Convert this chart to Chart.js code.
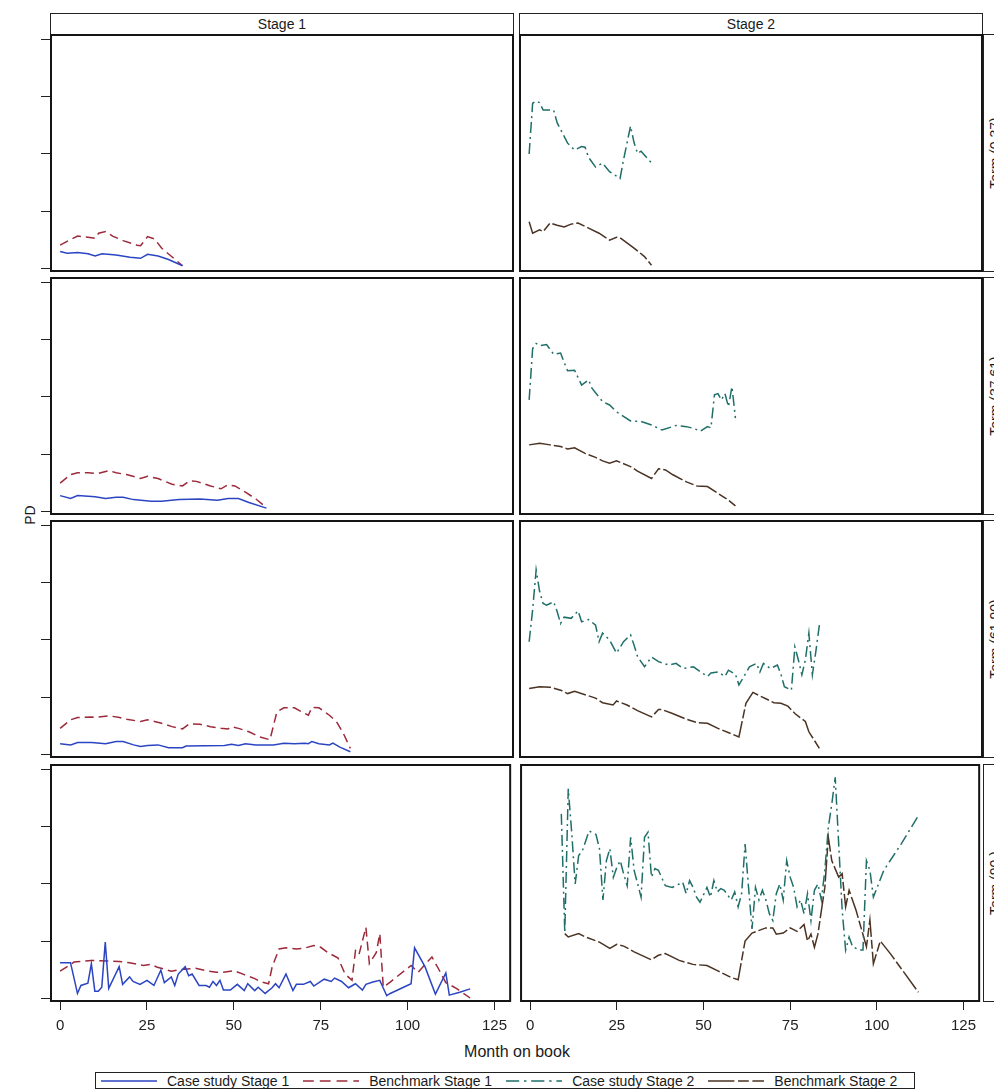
<!DOCTYPE html>
<html>
<head>
<meta charset="utf-8">
<script src="https://cdn.jsdelivr.net/npm/chart.js@4.4.1/dist/chart.umd.min.js"></script>
<style>
body { margin: 0; width: 994px; height: 1090px; overflow: hidden; background: #fff; position: relative;
       font-family: "Liberation Sans", Arial, sans-serif; color: #1a1a1a; }
.strip { position: absolute; box-sizing: border-box; border: 1px solid #222; background: #fff; font-size: 14px; text-align: center; }
.rowstrip { position: absolute; box-sizing: border-box; border: 1px solid #222; background: #fff; }
.rowstrip span { position: absolute; left: 50%; top: 50%; white-space: nowrap; font-size: 14px;
                 transform: translate(-50%, -50%) rotate(-90deg); }
#ytitle { position: absolute; left: 20px; top: 507px; font-size: 14px; transform: rotate(-90deg); transform-origin: center; }
#xtitle { position: absolute; left: 0; width: 1034px; top: 1043px; text-align: center; font-size: 16px; }
#legend { position: absolute; left: 95px; top: 1072px; width: 820px; height: 17px; box-sizing: border-box;
          border: 1px solid #222; display: flex; align-items: center; font-size: 14px; }
#legend .item { display: flex; align-items: center; margin-left: 5px; margin-right: 9px; }
#legend svg { margin-right: 10px; }
</style>
</head>
<body>
<div id="ytitle">PD</div>
<div id="xtitle">Month on book</div>
<div id="legend"></div>
<script>
// facet labels and axis ticks
const colLabels = ["Stage 1", "Stage 2"];
const rowLabels = ["Term (0,37)", "Term (37,61)", "Term (61,90)", "Term (90,)"];
const xTicks = [0, 25, 50, 75, 100, 125];
const yTicks = [0, 1, 2, 3, 4];   // tick labels are blanked in the source

// [month, PD] -- Term (0,37)
const t1CaseS1 = [[0,0.29],[2,0.26],[5,0.27],[8,0.25],[10,0.21],[12,0.25],[16,0.23],[20,0.19],[23,0.17],[25,0.24],[28,0.21],[31,0.15],[35,0.04]];
const t1BenchS1 = [[0,0.40],[3,0.50],[5,0.56],[8,0.54],[10,0.52],[11,0.61],[13,0.64],[15,0.56],[18,0.48],[22,0.40],[23,0.39],[25,0.55],[27,0.51],[29,0.35],[35,0.04]];
const t1CaseS2 = [[0,2.0],[1,2.89],[2,2.93],[3,2.9],[4,2.77],[7,2.77],[8,2.55],[11,2.19],[13,2.07],[15,2.13],[16,2.12],[17,1.94],[19,1.77],[21,1.84],[23,1.69],[26,1.57],[27,1.9],[29,2.49],[30,2.2],[31,2.01],[32,2.05],[35,1.84]];
const t1BenchS2 = [[0,0.81],[1,0.61],[3,0.67],[4,0.64],[6,0.79],[8,0.75],[10,0.72],[12,0.77],[14,0.79],[17,0.7],[20,0.61],[23,0.49],[25,0.54],[26,0.53],[30,0.35],[33,0.2],[35,0.05]];

// Term (37,61)
const t2CaseS1 = [[0,0.27],[3,0.22],[5,0.27],[8,0.26],[10,0.25],[13,0.22],[16,0.24],[18,0.24],[21,0.2],[26,0.17],[29,0.17],[34,0.2],[40,0.21],[45,0.19],[48,0.22],[51,0.22],[54,0.15],[59,0.05]];
const t2BenchS1 = [[0,0.49],[3,0.64],[5,0.67],[8,0.67],[11,0.66],[14,0.71],[16,0.67],[19,0.64],[23,0.57],[25,0.61],[28,0.57],[32,0.47],[35,0.44],[37,0.53],[39,0.52],[43,0.44],[46,0.39],[48,0.46],[50,0.44],[53,0.33],[56,0.21],[59,0.06]];
const t2CaseS2 = [[0,1.95],[1,2.85],[2,2.94],[3,2.9],[5,2.92],[7,2.75],[9,2.77],[10,2.61],[11,2.46],[13,2.47],[15,2.21],[17,2.3],[18,2.15],[21,1.92],[23,1.86],[25,1.74],[29,1.58],[32,1.57],[35,1.51],[38,1.42],[42,1.5],[45,1.48],[47,1.45],[49,1.4],[51,1.48],[52,1.46],[53,2.04],[54,2.06],[55,1.95],[56,2.06],[57,1.83],[58,2.18],[59,1.63]];
const t2BenchS2 = [[0,1.16],[3,1.19],[6,1.16],[9,1.13],[11,1.09],[13,1.11],[16,1.01],[19,0.94],[21,0.88],[23,0.84],[25,0.88],[29,0.78],[31,0.7],[35,0.57],[37,0.74],[39,0.72],[41,0.64],[45,0.51],[48,0.44],[51,0.43],[54,0.31],[57,0.19],[59,0.09]];

// Term (61,90)
const t3CaseS1 = [[0,0.18],[3,0.16],[5,0.2],[9,0.2],[13,0.18],[16,0.22],[18,0.22],[21,0.16],[23,0.13],[25,0.15],[28,0.16],[31,0.11],[35,0.11],[36,0.14],[47,0.15],[49,0.17],[51,0.15],[53,0.18],[56,0.16],[61,0.16],[64,0.19],[67,0.18],[70,0.19],[71,0.18],[72,0.22],[74,0.18],[77,0.16],[78,0.19],[80,0.12],[83,0.04]];
const t3BenchS1 = [[0,0.45],[3,0.6],[5,0.64],[9,0.65],[10,0.64],[14,0.67],[17,0.64],[19,0.61],[23,0.57],[25,0.6],[27,0.57],[29,0.54],[32,0.48],[35,0.44],[37,0.53],[40,0.52],[43,0.48],[46,0.45],[48,0.44],[49,0.48],[51,0.45],[54,0.39],[57,0.3],[60,0.25],[62,0.74],[64,0.81],[67,0.81],[70,0.71],[71,0.68],[72,0.82],[74,0.81],[77,0.68],[79,0.57],[81,0.36],[83,0.1]];
const t3CaseS2 = [[0,1.97],[1,2.53],[2,3.23],[3,2.85],[4,2.64],[5,2.61],[7,2.67],[8,2.5],[9,2.29],[10,2.4],[12,2.38],[14,2.51],[15,2.32],[17,2.36],[19,2.26],[20,1.97],[21,2.12],[23,2.0],[25,1.77],[27,1.97],[29,2.09],[30,1.91],[31,1.71],[33,1.53],[35,1.7],[37,1.62],[40,1.56],[42,1.59],[44,1.5],[47,1.53],[49,1.44],[51,1.36],[52,1.42],[54,1.44],[56,1.36],[57,1.47],[59,1.4],[60,1.21],[62,1.42],[63,1.53],[65,1.59],[66,1.44],[67,1.59],[69,1.5],[71,1.56],[72,1.4],[73,1.18],[75,1.12],[76,1.88],[77,1.65],[78,1.39],[79,1.65],[80,2.12],[81,1.39],[82,1.8],[83,2.26]];
const t3BenchS2 = [[0,1.15],[3,1.18],[6,1.17],[9,1.12],[11,1.06],[13,1.1],[16,1.04],[19,0.98],[21,0.9],[24,0.86],[25,0.93],[28,0.86],[31,0.76],[35,0.65],[37,0.78],[38,0.78],[41,0.71],[45,0.61],[48,0.55],[51,0.54],[54,0.45],[58,0.35],[60,0.3],[62,0.89],[64,1.08],[66,1.02],[68,0.96],[70,0.9],[72,0.89],[74,0.84],[76,0.71],[79,0.57],[80,0.39],[83,0.1]];

// Term (90,)
const t4CaseS1 = [[0,0.62],[3,0.62],[5,0.08],[6,0.22],[8,0.26],[9,0.6],[10,0.12],[11,0.12],[12,0.19],[13,0.98],[14,0.17],[17,0.55],[18,0.24],[20,0.37],[21,0.29],[23,0.24],[25,0.31],[27,0.22],[29,0.49],[30,0.27],[32,0.37],[33,0.22],[34,0.42],[36,0.55],[37,0.39],[38,0.42],[40,0.22],[42,0.22],[43,0.19],[44,0.29],[45,0.22],[46,0.31],[47,0.14],[49,0.14],[51,0.24],[53,0.13],[54,0.25],[56,0.13],[57,0.19],[59,0.08],[61,0.18],[62,0.25],[63,0.18],[65,0.42],[67,0.13],[68,0.24],[70,0.24],[72,0.29],[73,0.21],[76,0.33],[78,0.29],[79,0.35],[81,0.29],[83,0.18],[85,0.25],[87,0.14],[88,0.24],[90,0.28],[92,0.31],[94,0.04],[95,0.08],[101,0.25],[102,0.88],[105,0.55],[108,0.07],[111,0.44],[112,0.05],[115,0.1],[118,0.16]];
const t4BenchS1 = [[0,0.47],[4,0.63],[9,0.66],[14,0.65],[17,0.64],[20,0.62],[24,0.57],[26,0.59],[28,0.54],[32,0.47],[35,0.5],[39,0.52],[42,0.48],[45,0.45],[47,0.45],[50,0.48],[53,0.41],[56,0.34],[58,0.28],[60,0.25],[61,0.54],[63,0.86],[65,0.88],[68,0.86],[70,0.87],[73,0.92],[75,0.89],[77,0.8],[80,0.7],[82,0.42],[84,0.31],[85,0.83],[86,0.76],[88,1.24],[89,0.6],[91,0.8],[92,1.13],[93,0.19],[95,0.28],[101,0.57],[103,0.45],[107,0.72],[109,0.5],[111,0.27],[114,0.17],[118,0.0]];
const t4CaseS2 = [[9,3.23],[10,1.15],[11,3.67],[12,2.9],[13,2.0],[14,2.5],[15,2.57],[17,2.93],[19,2.87],[20,2.62],[21,1.72],[22,2.41],[23,2.62],[24,2.12],[25,2.29],[26,2.41],[27,2.17],[28,1.97],[29,2.82],[30,2.24],[32,1.77],[33,2.82],[34,2.91],[35,2.12],[36,2.27],[37,2.24],[39,1.97],[41,1.94],[43,2.0],[44,2.03],[45,1.83],[46,2.06],[47,1.94],[48,1.77],[49,1.68],[51,1.94],[52,1.77],[53,2.06],[54,1.86],[55,1.92],[56,1.89],[58,1.72],[59,1.86],[60,1.6],[61,1.83],[62,2.7],[63,1.94],[64,1.21],[65,1.94],[66,1.72],[67,1.89],[68,1.72],[69,1.48],[70,1.36],[71,1.83],[72,2.0],[73,1.72],[74,2.41],[75,2.12],[76,1.94],[77,1.6],[78,1.72],[79,1.48],[80,1.83],[81,1.36],[82,1.89],[83,2.0],[84,1.72],[85,2.24],[86,2.99],[87,3.4],[88,3.87],[89,2.7],[90,1.54],[91,0.84],[92,1.07],[93,0.9],[95,0.84],[96,0.84],[97,2.41],[98,2.24],[99,1.77],[102,2.24],[107,2.7],[112,3.2]];
const t4BenchS2 = [[10,1.13],[11,1.07],[14,1.13],[16,1.07],[20,0.98],[23,0.87],[25,0.94],[27,0.91],[30,0.81],[35,0.67],[37,0.75],[39,0.78],[43,0.66],[47,0.59],[51,0.57],[54,0.48],[58,0.36],[60,0.32],[62,1.0],[64,1.14],[68,1.23],[70,1.23],[71,1.12],[73,1.14],[75,1.23],[77,1.17],[79,1.29],[80,1.0],[81,1.12],[82,0.89],[83,1.12],[85,1.94],[86,2.82],[87,2.41],[89,2.12],[90,2.18],[91,1.6],[92,1.89],[94,1.54],[97,0.9],[98,1.37],[99,0.6],[101,1.0],[104,0.77],[112,0.1]];

const panelData = [
    [[t1CaseS1, t1BenchS1], [t1CaseS2, t1BenchS2]],
    [[t2CaseS1, t2BenchS1], [t2CaseS2, t2BenchS2]],
    [[t3CaseS1, t3BenchS1], [t3CaseS2, t3BenchS2]],
    [[t4CaseS1, t4BenchS1], [t4CaseS2, t4BenchS2]]
];

var seriesStyle = [
    { label: "Case study Stage 1", color: "#2b45c2", dash: [] },
    { label: "Benchmark Stage 1", color: "#9c2a3a", dash: [9, 5] },
    { label: "Case study Stage 2", color: "#1f6f68", dash: [11, 4, 2, 4] },
    { label: "Benchmark Stage 2", color: "#4a3323", dash: [22, 3, 9, 3] }
];

var rowTops = [34, 277, 520, 764];
var panelH = 238;
var panelW = 464;
var colLefts = [50, 519];

Chart.defaults.font.family = '"Liberation Sans", Arial, sans-serif';
Chart.defaults.color = "#222";

// thick frame round each plot region
const framePlugin = {
    id: "frame",
    afterDraw(chart) {
        const a = chart.chartArea;
        const ctx = chart.ctx;
        ctx.save();
        ctx.strokeStyle = "#151515";
        ctx.lineWidth = 2;
        ctx.strokeRect(a.left + 1, a.top + 1, a.right - a.left - 2, a.bottom - a.top - 2);
        ctx.restore();
    }
};

function makePanel(row, col) {
    var yAxisW = col == 0 ? 10 : 0;
    var xAxisH = row == 3 ? 50 : 0;
    var w = panelW + yAxisW;
    var h = panelH + xAxisH;
    var cv = document.createElement("canvas");
    cv.width = w;
    cv.height = h;
    cv.style.cssText = "position:absolute;left:" + (colLefts[col] - yAxisW) + "px;top:" + rowTops[row] + "px;width:" + w + "px;height:" + h + "px";
    document.body.appendChild(cv);

    var pair = panelData[row][col];
    var datasets = pair.map(function (pts, i) {
        var st = seriesStyle[col * 2 + i];
        return {
            label: st.label,
            data: pts,
            borderColor: st.color,
            borderDash: st.dash,
            borderWidth: 1.5,
            pointRadius: 0,
            tension: 0,
            fill: false
        };
    });

    new Chart(cv, {
        type: "line",
        data: { datasets: datasets },
        plugins: [framePlugin],
        options: {
            responsive: false,
            animation: false,
            layout: { padding: 0 },
            plugins: { legend: { display: false }, tooltip: { enabled: false } },
            scales: {
                x: {
                    type: "linear",
                    min: -2.9,
                    max: 129.8,
                    display: row == 3,
                    afterBuildTicks: function (s) { s.ticks = xTicks.map(function (v) { return { value: v }; }); },
                    afterFit: function (s) { s.height = xAxisH; },
                    ticks: { font: { size: 15 }, padding: 7, maxRotation: 0, autoSkip: false, color: "#222" },
                    grid: { drawOnChartArea: false, drawTicks: true, tickLength: 8, color: "#222" },
                    border: { display: false }
                },
                y: {
                    type: "linear",
                    min: -0.07,
                    max: 4.105,
                    display: col == 0,
                    afterBuildTicks: function (s) { s.ticks = yTicks.map(function (v) { return { value: v }; }); },
                    afterFit: function (s) { s.width = yAxisW; },
                    ticks: { display: false },
                    grid: { drawOnChartArea: false, drawTicks: true, tickLength: 9, color: "#222" },
                    border: { display: false }
                }
            }
        }
    });
}

// strips
colLabels.forEach(function (txt, c) {
    var d = document.createElement("div");
    d.className = "strip";
    d.style.cssText = "left:" + colLefts[c] + "px;top:13px;width:" + panelW + "px;height:22px;line-height:20px";
    d.textContent = txt;
    document.body.appendChild(d);
});
rowLabels.forEach(function (txt, r) {
    var d = document.createElement("div");
    d.className = "rowstrip";
    d.style.cssText = "left:983px;top:" + rowTops[r] + "px;width:24px;height:" + panelH + "px";
    var s = document.createElement("span");
    s.textContent = txt;
    d.appendChild(s);
    document.body.appendChild(d);
});

for (var r = 0; r < 4; r++) {
    for (var c = 0; c < 2; c++) {
        makePanel(r, c);
    }
}

// shared legend
var legend = document.getElementById("legend");
seriesStyle.forEach(function (st) {
    var item = document.createElement("div");
    item.className = "item";
    var dash = st.dash.length ? ' stroke-dasharray="' + st.dash.map(function (v) { return v * 1.2; }).join(",") + '"' : "";
    item.innerHTML = '<svg width="56" height="8"><line x1="0" y1="4" x2="56" y2="4" stroke="' + st.color + '" stroke-width="1.5"' + dash + '/></svg><span>' + st.label + "</span>";
    legend.appendChild(item);
});
</script>
</body>
</html>
